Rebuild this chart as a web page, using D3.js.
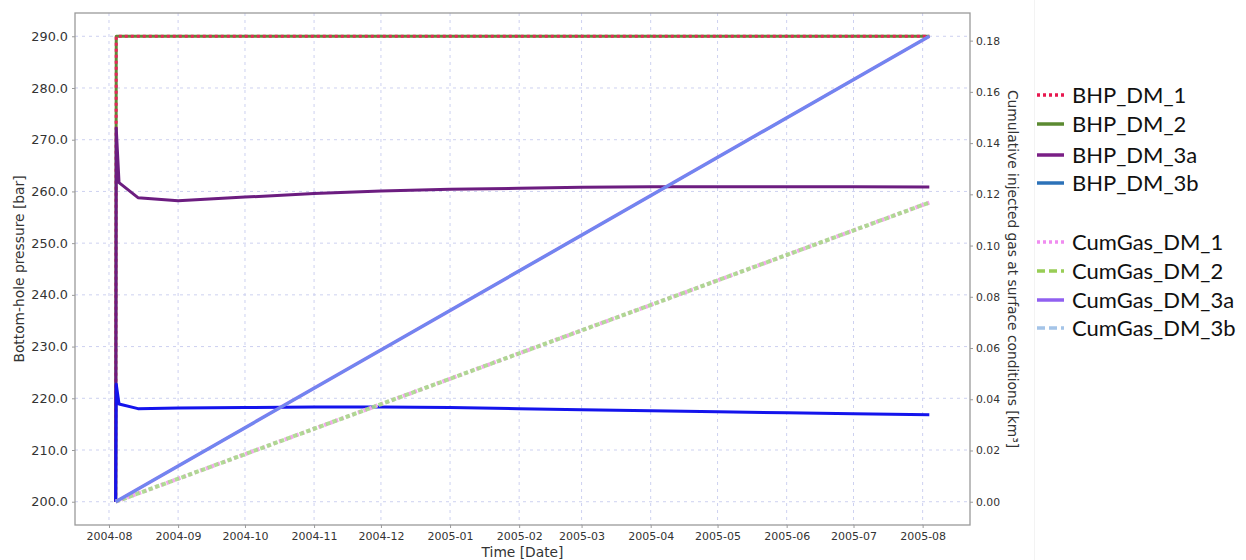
<!DOCTYPE html>
<html>
<head>
<meta charset="utf-8">
<script src="https://cdn.jsdelivr.net/npm/d3@7/dist/d3.min.js"></script>
<style>
  html, body { margin: 0; padding: 0; background: #fff; }
  svg { display: block; }
  .tick text { fill: #333; font-family: "DejaVu Sans", sans-serif; }
</style>
</head>
<body>
<svg id="chart" width="1246" height="560"></svg>
<script>
// ---- data -------------------------------------------------------------
const parse = d3.utcParse("%Y-%m-%d %H:%M");

// Bottom-hole pressure [bar]
const bhpDates13 = ["2004-08-04 00:00", "2004-08-04 06:00", "2005-08-04 00:00"];
const bhpDM1 = [200, 290, 290];
const bhpDM2 = [200, 290, 290];

const bhpDates3 = [
  "2004-08-04 00:00", "2004-08-04 06:00", "2004-08-05 12:00", "2004-08-14 00:00",
  "2004-09-01 00:00", "2004-10-01 00:00", "2004-11-01 00:00", "2004-12-01 00:00",
  "2005-01-01 00:00", "2005-02-01 00:00", "2005-03-01 00:00", "2005-04-01 00:00",
  "2005-05-01 00:00", "2005-06-01 00:00", "2005-07-01 00:00", "2005-08-04 00:00"
];
const bhpDM3a = [200, 272.2, 261.7, 258.8, 258.2, 258.9, 259.6, 260.1,
                 260.4, 260.6, 260.8, 260.9, 260.9, 260.9, 260.9, 260.85];
const bhpDM3b = [200, 222.7, 218.9, 218.0, 218.1, 218.2, 218.3, 218.3,
                 218.2, 218.0, 217.8, 217.6, 217.4, 217.2, 217.0, 216.8];

// Cumulative injected gas at surface conditions [km³]
const gasDates = ["2004-08-04 00:00", "2005-08-04 00:00"];
const gasDM1  = [0, 0.1168];
const gasDM2  = [0, 0.1168];
const gasDM3a = [0, 0.1817];
const gasDM3b = [0, 0.1817];

// tick values
const leftTicks  = [200, 210, 220, 230, 240, 250, 260, 270, 280, 290];
const rightTicks = [0, 0.02, 0.04, 0.06, 0.08, 0.10, 0.12, 0.14, 0.16, 0.18];
const timeTicks  = ["2004-08", "2004-09", "2004-10", "2004-11", "2004-12", "2005-01",
                    "2005-02", "2005-03", "2005-04", "2005-05", "2005-06", "2005-07", "2005-08"];

// ---- layout -------------------------------------------------------------
const svg = d3.select("#chart");
const L = 75, R = 970, T = 13, B = 525;

const tStart = parse(gasDates[0]), tEnd = parse(gasDates[1]);
const tPad = (tEnd - tStart) * 0.05;
const x = d3.scaleUtc()
  .domain([new Date(+tStart - tPad), new Date(+tEnd + tPad)])
  .range([L, R]);

const yL = d3.scaleLinear().domain([195.5, 294.5]).range([B, T]);
const gasMax = d3.max(gasDM3a);
const yR = d3.scaleLinear().domain([-gasMax * 0.05, gasMax * 1.05]).range([B, T]);

// ---- grid -----------------------------------------------------------------
const tickDates = timeTicks.map(s => d3.utcParse("%Y-%m")(s));
const grid = svg.append("g").attr("stroke", "#cdd1f0").attr("stroke-width", 1)
  .attr("stroke-dasharray", "3,4");
grid.selectAll(".gx").data(tickDates).join("line")
  .attr("x1", d => x(d)).attr("x2", d => x(d)).attr("y1", T).attr("y2", B);
grid.selectAll(".gy").data(leftTicks).join("line")
  .attr("x1", L).attr("x2", R).attr("y1", d => yL(d)).attr("y2", d => yL(d));

// ---- series -----------------------------------------------------------------
function series(dates, vals) {
  return dates.map((d, i) => ({ t: parse(d), v: vals[i] }));
}
const lineL = d3.line().x(d => x(d.t)).y(d => yL(d.v));
const lineR = d3.line().x(d => x(d.t)).y(d => yR(d.v));

const plot = svg.append("g").attr("fill", "none")
  .attr("stroke-linejoin", "round");

// pressure curves
plot.append("path").datum(series(bhpDates13, bhpDM2)).attr("d", lineL)
  .attr("stroke", "#5f8a35").attr("stroke-width", 3);
plot.append("path").datum(series(bhpDates13, bhpDM1)).attr("d", lineL)
  .attr("stroke", "#e8245a").attr("stroke-width", 3).attr("stroke-dasharray", "3,3");
plot.append("path").datum(series(bhpDates3, bhpDM3a)).attr("d", lineL)
  .attr("stroke", "#6c1d80").attr("stroke-width", 3);
plot.append("path").datum(series(bhpDates3, bhpDM3b)).attr("d", lineL)
  .attr("stroke", "#1414ec").attr("stroke-width", 3);

// cumulative gas curves (secondary axis)
plot.append("path").datum(series(gasDates, gasDM1)).attr("d", lineR)
  .attr("stroke", "#f2a8ec").attr("stroke-width", 4).attr("stroke-dasharray", "3,3");
plot.append("path").datum(series(gasDates, gasDM2)).attr("d", lineR)
  .attr("stroke", "#a9d98a").attr("stroke-width", 4).attr("stroke-dasharray", "4.5,2.5")
  .attr("opacity", 0.9);
plot.append("path").datum(series(gasDates, gasDM3a)).attr("d", lineR)
  .attr("stroke", "#8a74f0").attr("stroke-width", 3.5);
plot.append("path").datum(series(gasDates, gasDM3b)).attr("d", lineR)
  .attr("stroke", "#6a8cee").attr("stroke-width", 2.5).attr("opacity", 0.85);

// ---- frame & axes -------------------------------------------------------------
svg.append("rect").attr("x", L).attr("y", T).attr("width", R - L).attr("height", B - T)
  .attr("fill", "none").attr("stroke", "#9a9a9a").attr("stroke-width", 1.3);

const axL = svg.append("g").attr("transform", `translate(${L},0)`)
  .call(d3.axisLeft(yL).tickValues(leftTicks).tickFormat(d3.format(".1f"))
    .tickSize(3).tickPadding(4));
axL.selectAll("text").style("font-size", "12.8px");

const axR = svg.append("g").attr("transform", `translate(${R},0)`)
  .call(d3.axisRight(yR).tickValues(rightTicks).tickFormat(d3.format(".2f"))
    .tickSize(3).tickPadding(3));
axR.selectAll("text").style("font-size", "10.8px");

const axB = svg.append("g").attr("transform", `translate(0,${B})`)
  .call(d3.axisBottom(x).tickValues(tickDates).tickFormat(d3.utcFormat("%Y-%m"))
    .tickSize(3).tickPadding(4));
axB.selectAll("text").style("font-size", "11px");

[axL, axR, axB].forEach(a => {
  a.select(".domain").remove();
  a.selectAll(".tick line").attr("stroke", "#9a9a9a");
});

// axis titles
const titleFont = { "font-family": "DejaVu Sans, sans-serif", "font-size": "13.8px", "fill": "#333" };
function styled(sel) { Object.entries(titleFont).forEach(([k, v]) => sel.attr(k, v)); return sel; }

styled(svg.append("text")).attr("text-anchor", "middle")
  .attr("transform", `translate(24,${(T + B) / 2}) rotate(-90)`)
  .text("Bottom-hole pressure [bar]");
styled(svg.append("text")).attr("text-anchor", "middle")
  .attr("x", (L + R) / 2).attr("y", 557).text("Time [Date]");
styled(svg.append("text")).attr("text-anchor", "middle")
  .attr("transform", `translate(1008,${(T + B) / 2}) rotate(90)`)
  .text("Cumulative injected gas at surface conditions [km³]");

// ---- legend -----------------------------------------------------------------
svg.append("line").attr("x1", 1034.5).attr("x2", 1034.5).attr("y1", 0).attr("y2", 560)
  .attr("stroke", "#f3f3f3").attr("stroke-width", 1);

const legendNames = ["BHP_DM_1", "BHP_DM_2", "BHP_DM_3a", "BHP_DM_3b",
                     "CumGas_DM_1", "CumGas_DM_2", "CumGas_DM_3a", "CumGas_DM_3b"];
const legendColors = ["#e8174f", "#5b8a31", "#7a1f86", "#2c72b8",
                      "#f08cf0", "#98cd55", "#9060f0", "#a4c4e8"];
const legendDash = ["3,3", null, null, null, "3,3", "8,4", null, "8,4"];
const legendY = [95, 124, 155, 183, 242, 271, 300, 328];

const leg = svg.append("g");
legendNames.forEach((name, i) => {
  leg.append("line").attr("x1", 1037).attr("x2", 1064)
    .attr("y1", legendY[i]).attr("y2", legendY[i])
    .attr("stroke", legendColors[i]).attr("stroke-width", 3.5)
    .attr("stroke-dasharray", legendDash[i]);
  leg.append("text").attr("x", 1072).attr("y", legendY[i]).attr("dy", "0.36em")
    .attr("font-family", "Lato, 'Open Sans', sans-serif").attr("font-size", "22px")
    .attr("fill", "#111").text(name);
});
</script>
</body>
</html>
